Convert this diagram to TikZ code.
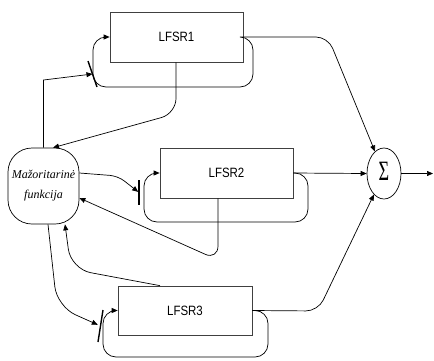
\documentclass[tikz,border=0pt]{standalone}
\usepackage{graphicx}
\usepackage{fontspec}
\setmainfont{Liberation Serif}
\setsansfont{Liberation Sans}
\usetikzlibrary{arrows.meta,shapes.geometric}
\begin{document}
\begin{tikzpicture}[x=1pt,y=-1pt, line width=0.7pt,
  lfsr/.style={draw=black!75, minimum width=133pt, minimum height=50pt, inner sep=0pt,
    font=\sffamily\fontsize{13.5}{15}\selectfont},
  maj/.style={draw, rounded corners=24pt, minimum width=71pt, minimum height=76pt,
    align=center, inner sep=0pt, font=\fontsize{12}{20}\selectfont\itshape},
  sumn/.style={draw, ellipse, minimum width=34pt, minimum height=51pt, inner sep=0pt,
    font=\fontsize{28}{28}\selectfont},
  arr/.style={-{Triangle[length=6pt,width=5pt]}},
  tickmark/.style={line width=1.4pt},
  fbloop/.style={arr, rounded corners=13pt}]
\useasboundingbox (0,0) rectangle (434,360);

% nodes
\node[lfsr] (L1) at (176.5,37) {\scalebox{0.85}[1]{LFSR1}};
\node[lfsr] (L2) at (226.5,173) {\scalebox{0.85}[1]{LFSR2}};
\node[lfsr, minimum width=134pt, minimum height=49pt] (L3) at (185,310.5) {\scalebox{0.85}[1]{LFSR3}};
\node[maj] (M) at (43.5,186) {Mažoritarinė\\funkcija};
\node[sumn] (S) at (384,173.5) {\raisebox{5pt}{\scalebox{0.65}[1]{Σ}}};

\coordinate (t1) at (92.5,74);
\coordinate (t2) at (139,192.5);
\coordinate (t3) at (100.5,326);
\coordinate (out) at (433,173.5);

% feedback loops
\draw[fbloop] (L1.east) -| (253,87) -| (93,37) -- (L1.west);
\draw[fbloop] (L2.east) -| (308,222) -| (144,173) -- (L2.west);
\draw[fbloop] (L3.east) -| (268,357) -| (103,310.5) -- (L3.west);

% tick marks
\draw[tickmark] (t1) ++(-4.5,-13) -- ++(9,26);
\draw[tickmark] (t2) ++(0,-12.5) -- ++(0,25);
\draw[tickmark] (t3) ++(2.5,-16) -- ++(-5,32);

% majority function to the ticks
\draw[arr] (M.north) -- (43.5,80) -- (t1);
\draw[arr, rounded corners=8pt, shorten >=1pt] ([yshift=13pt]M.east) -- (118,176) -- (t2);
\draw[arr, rounded corners=20pt, shorten >=3pt] ([xshift=4.5pt]M.south) -- (57,306.5) -- (t3);

% taps back to the majority function
\draw[arr, rounded corners=15pt] ([xshift=-0.5pt]L1.south) -- (176,113.5) -- ([xshift=9.5pt]M.north);
\draw[arr, rounded corners=14pt] ([xshift=-8.5pt]L2.south) -- (218,260) -- ([yshift=-12pt]M.east);
\draw[arr, rounded corners=20pt] ([xshift=-25pt]L3.north) -- (71,269) -- ([xshift=21.5pt]M.south);

% outputs to the sum
\draw[arr, rounded corners=12pt] (L1.east) -- (328,37) -- (S);
\draw[arr] (L2.east) -- (S.west);
\draw[arr, rounded corners=12pt] (L3.east) -- (318,311) -- (S);
\draw[arr] (S.east) -- (out);
\end{tikzpicture}
\end{document}
